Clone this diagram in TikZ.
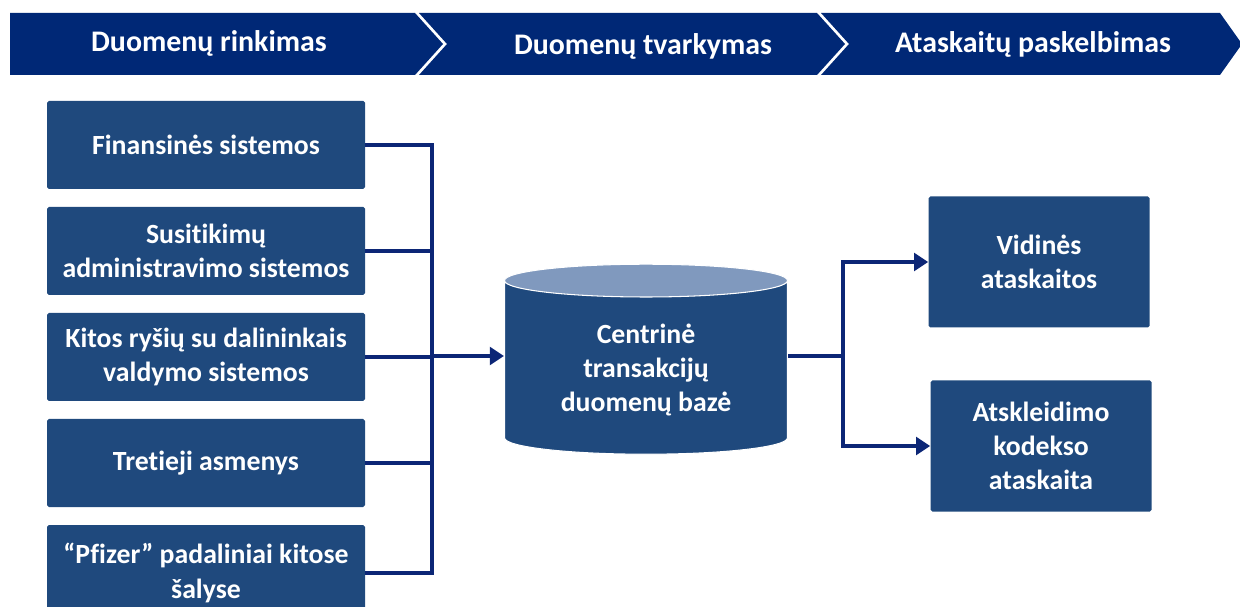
\documentclass[tikz,border=0pt]{standalone}
\usepackage{fontspec}
\setmainfont{Carlito}[Ligatures={NoCommon}]
\usepackage{tikz}
\usetikzlibrary{positioning, arrows.meta, shapes.geometric}

\definecolor{bandblue}{RGB}{0,40,118}
\definecolor{boxblue}{RGB}{31,73,125}
\definecolor{lineblue}{RGB}{12,38,118}
\definecolor{topblue}{RGB}{128,153,190}

\begin{document}
\begin{tikzpicture}[x=0.02cm, y=-0.02cm,
        band/.style={fill=bandblue},
        bandtext/.style={text=white, font=\bfseries\fontsize{17}{20}\selectfont},
        srcbox/.style={fill=boxblue, rounded corners=1pt, text=white, align=center,
            minimum width=318*0.02cm, minimum height=88*0.02cm, inner sep=2pt,
            font=\bfseries\fontsize{15.8}{19.5}\selectfont},
        repbox/.style={srcbox, minimum width=221*0.02cm, minimum height=131*0.02cm},
        dbase/.style={cylinder, shape border rotate=90, aspect=0.18,
            cylinder uses custom fill, cylinder body fill=boxblue, cylinder end fill=topblue,
            draw=white, line width=0.6pt, text=white, align=center,
            minimum width=283*0.02cm, minimum height=190*0.02cm,
            font=\bfseries\fontsize{15.8}{19.5}\selectfont},
        link/.style={draw=lineblue, line width=2.2pt},
        arr/.style={link, -{Triangle[length=8pt, width=10pt]}}]
    \useasboundingbox (0,0) rectangle (1240,607);

    % header band
    \fill[band] (10,13) -- (415,13) -- (443,44) -- (415,75) -- (10,75) -- cycle;
    \fill[band] (419,13) -- (817,13) -- (845,44) -- (817,75) -- (419,75) -- (447,44) -- cycle;
    \fill[band] (821,13) -- (1220,13) -- (1242,44) -- (1220,75) -- (821,75) -- (849,44) -- cycle;
    \node[bandtext] (h1) at (209,43) {Duomenų rinkimas};
    \node[bandtext] (h2) at (643,46) {Duomenų tvarkymas};
    \node[bandtext] (h3) at (1033,44) {Ataskaitų paskelbimas};

    % data sources
    \node[srcbox] (fin) at (206,145) {Finansinės sistemos};
    \node[srcbox] (sus) at (206,251) {Susitikimų\\administravimo sistemos};
    \node[srcbox] (kit) at (206,357) {Kitos ryšių su dalininkais\\valdymo sistemos};
    \node[srcbox] (tre) at (206,463) {Tretieji asmenys};
    \node[srcbox, minimum height=96*0.02cm] (pfi) at (206,573) {“Pfizer” padaliniai kitose\\šalyse};

    % central database
    \node[dbase] (db) at (646,370) {Centrinė\\transakcijų\\duomenų bazė};

    % reports
    \node[repbox] (vid) at (1039,262) {Vidinės\\ataskaitos};
    \node[repbox] (ats) at (1041,446) {Atskleidimo\\kodekso\\ataskaita};

    % connectors
    \coordinate (bus) at (432,356);
    \coordinate (split) at (843,356);
    \foreach \src in {fin,sus,kit,tre,pfi}
        \draw[link] (\src.east) -| (bus);
    \draw[arr] (bus) -- (bus -| db.west);
    \draw[link] (split -| db.east) -- (split);
    \draw[arr] (split) |- (vid.west);
    \draw[arr] (split) |- (ats.west);
\end{tikzpicture}
\end{document}
